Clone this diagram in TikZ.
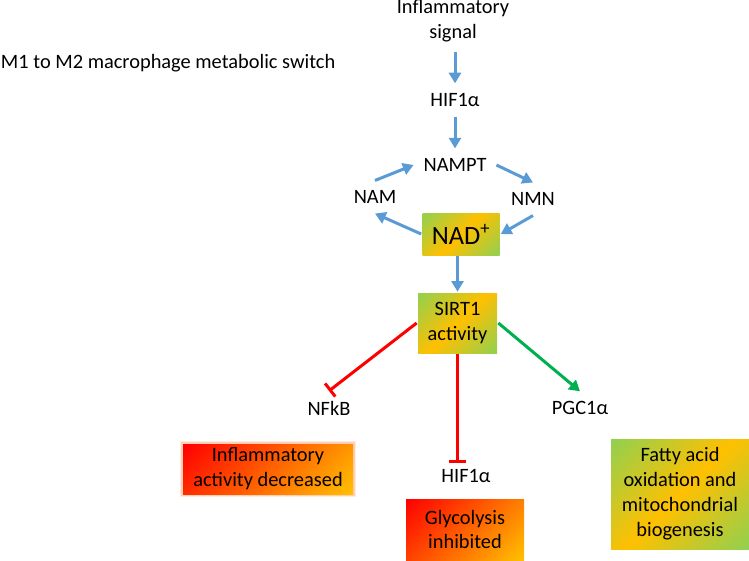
\documentclass[tikz,border=0pt]{standalone}
\usepackage{fontspec}
\setmainfont{Carlito}
\usetikzlibrary{arrows.meta}
\definecolor{flowblue}{HTML}{5B9BD5}
\definecolor{inhred}{HTML}{FF0000}
\definecolor{actgreen}{HTML}{00B050}
\definecolor{lightgreen}{HTML}{92D050}
\definecolor{gold}{HTML}{FFC000}
\pgfdeclarehorizontalshading{greengold}{100bp}{color(0bp)=(lightgreen); color(15bp)=(lightgreen); color(50bp)=(gold); color(85bp)=(lightgreen); color(100bp)=(lightgreen)}
\pgfdeclarehorizontalshading{redgold}{100bp}{color(0bp)=(inhred); color(15bp)=(inhred); color(85bp)=(gold); color(100bp)=(gold)}
\tikzset{
  metab/.style={font=\fontsize{15.3}{18.7}\selectfont, inner sep=0pt, outer sep=7.5pt, align=center},
  statebox/.style={font=\fontsize{15.3}{18.7}\selectfont, inner sep=0pt, outer sep=1pt, align=center, shading=greengold, shading angle=-45},
  effectbox/.style={statebox, shading=redgold},
  glow/.style={preaction={draw=orange!70!red, line width=4.5pt, draw opacity=0.12},
               preaction={draw=orange!70!red, line width=2.5pt, draw opacity=0.2}},
  flow/.style={draw=flowblue, line width=2.25pt, -{Triangle[width=9pt,length=8pt]}},
  inhibit/.style={draw=inhred, line width=2.25pt, -{Bar[width=12.5pt]}},
  activate/.style={draw=actgreen, line width=2.25pt, -{Triangle[width=9pt,length=8pt]}}
}
\begin{document}
\begin{tikzpicture}[x=0.75pt,y=-0.75pt]
  \useasboundingbox (0,0) rectangle (749,560);
  % title
  \node[metab, anchor=west, outer sep=0pt] (title) at (1,63) {M1 to M2 macrophage metabolic switch};
  % NAD+ salvage cycle
  \node[metab] (signal) at (453,21) {Inflammatory\\signal};
  \node[metab] (hifA) at (455,100) {HIF1α};
  \node[metab] (nampt) at (455,165) {NAMPT};
  \node[metab] (nam) at (375,197) {NAM};
  \node[metab] (nmn) at (533,199) {NMN};
  \node[statebox, minimum width=57.75pt, minimum height=31.5pt, font=\fontsize{19.8}{24}\selectfont] (nad) at (461,234) {NAD\textsuperscript{+}};
  \node[statebox, minimum width=59.25pt, minimum height=45pt] (sirt) at (457.5,323) {SIRT1\\activity};
  \draw[flow] (hifA.north |- signal.south) -- (hifA.north);
  \draw[flow] (hifA) -- (nampt);
  \draw[flow] (nam.north) -- (nampt.west);
  \draw[flow] (nampt.east) -- (nmn.north);
  \draw[flow] (nmn.south) -- (nad.east);
  \draw[flow] (nad.west) -- (nam.south);
  \draw[flow] (nad.south -| sirt.north) -- (sirt.north);
  % SIRT1 targets
  \node[metab] (nfkb) at (329,408) {NFkB};
  \node[metab] (hifB) at (466,476) {HIF1α};
  \node[metab] (pgc) at (580,408) {PGC1α};
  \draw[inhibit] (sirt.west) -- (nfkb.north);
  \draw[inhibit, shorten >=-3pt] (sirt.south) -- (sirt.south |- hifB.north);
  \draw[activate] (sirt.east) -- (pgc.north);
  % outcomes
  \node[effectbox, glow, minimum width=127.5pt, minimum height=37.5pt] (inflam) at (268,469) {Inflammatory\\activity decreased};
  \node[effectbox, minimum width=88.5pt, minimum height=45.75pt] (glyco) at (465,529.5) {Glycolysis\\inhibited};
  \node[statebox, minimum width=103.5pt, minimum height=82.5pt] (fatty) at (680,494) {Fatty acid\\oxidation and\\mitochondrial\\biogenesis};
\end{tikzpicture}
\end{document}
